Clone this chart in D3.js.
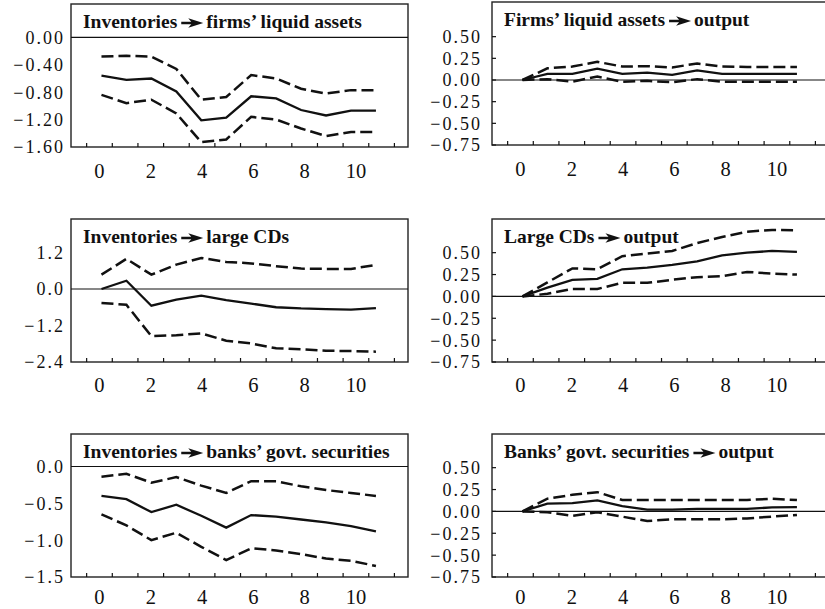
<!DOCTYPE html>
<html><head><meta charset="utf-8">
<script src="https://cdn.jsdelivr.net/npm/d3@7"></script>
<style>body{margin:0;background:#fff}</style>
</head><body><svg id="c" width="825" height="609"></svg>
<script>
// ---------- data ----------
const horizons = [0,1,2,3,4,5,6,7,8,9,10,11];
const xTickLabels = [0,2,4,6,8,10];

const titles = [
  ["Inventories", "firms’ liquid assets"],
  ["Firms’ liquid assets", "output"],
  ["Inventories", "large CDs"],
  ["Large CDs", "output"],
  ["Inventories", "banks’ govt. securities"],
  ["Banks’ govt. securities", "output"]
];

const yTicksP1 = [0, -0.4, -0.8, -1.2, -1.6];
const yTicksP3 = [1.2, 0, -1.2, -2.4];
const yTicksP5 = [0, -0.5, -1.0, -1.5];
const yTicksOut = [0.5, 0.25, 0, -0.25, -0.5, -0.75];

const p1Mid = [-0.56,-0.62,-0.60,-0.79,-1.21,-1.17,-0.86,-0.89,-1.06,-1.14,-1.07,-1.07];
const p1Up  = [-0.28,-0.27,-0.28,-0.46,-0.91,-0.87,-0.55,-0.60,-0.75,-0.82,-0.77,-0.77];
const p1Lo  = [-0.84,-0.96,-0.91,-1.11,-1.53,-1.49,-1.16,-1.20,-1.33,-1.44,-1.38,-1.38];

const p2Mid = [0,0.07,0.07,0.13,0.07,0.085,0.06,0.11,0.07,0.07,0.07,0.07];
const p2Up  = [0,0.135,0.155,0.21,0.155,0.16,0.145,0.19,0.155,0.15,0.15,0.15];
const p2Lo  = [0,0.01,-0.02,0.04,-0.02,-0.01,-0.025,0.01,-0.02,-0.02,-0.02,-0.02];

const p3Mid = [0.0,0.27,-0.55,-0.35,-0.22,-0.37,-0.48,-0.60,-0.64,-0.66,-0.68,-0.63];
const p3Up  = [0.47,0.99,0.47,0.80,1.02,0.89,0.84,0.75,0.67,0.66,0.66,0.79];
const p3Lo  = [-0.46,-0.52,-1.55,-1.52,-1.46,-1.70,-1.79,-1.95,-1.98,-2.03,-2.04,-2.06];

const p4Mid = [0,0.10,0.19,0.20,0.31,0.33,0.36,0.40,0.47,0.50,0.52,0.51];
const p4Up  = [0,0.16,0.32,0.31,0.46,0.49,0.52,0.61,0.68,0.74,0.76,0.755];
const p4Lo  = [0,0.03,0.085,0.085,0.155,0.155,0.19,0.22,0.23,0.28,0.26,0.25];

const p5Mid = [-0.40,-0.445,-0.62,-0.52,-0.67,-0.83,-0.66,-0.68,-0.72,-0.76,-0.81,-0.88];
const p5Up  = [-0.14,-0.10,-0.22,-0.145,-0.26,-0.36,-0.20,-0.20,-0.27,-0.32,-0.36,-0.40];
const p5Lo  = [-0.65,-0.80,-1.00,-0.90,-1.09,-1.27,-1.11,-1.14,-1.19,-1.25,-1.28,-1.35];

const p6Mid = [0,0.09,0.095,0.125,0.06,0.02,0.02,0.03,0.03,0.03,0.045,0.05];
const p6Up  = [0,0.145,0.19,0.22,0.13,0.13,0.13,0.13,0.13,0.13,0.145,0.13];
const p6Lo  = [0,-0.01,-0.05,-0.01,-0.06,-0.11,-0.09,-0.09,-0.09,-0.08,-0.06,-0.04];

// ---------- layout ----------
const panels = [
  {t:titles[0], mid:p1Mid, up:p1Up, lo:p1Lo, ticks:yTicksP1, fmt:".2f", dom:[-1.6,0.487], x0:71, top:4,   bot:147, col:0, lab:31},
  {t:titles[1], mid:p2Mid, up:p2Up, lo:p2Lo, ticks:yTicksOut, fmt:".2f", dom:[-0.75,0.90], x0:492, top:2, bot:145, col:1, lab:31},
  {t:titles[2], mid:p3Mid, up:p3Up, lo:p3Lo, ticks:yTicksP3, fmt:".1f", dom:[-2.4,2.3], x0:71, top:219, bot:362, col:0, lab:30},
  {t:titles[3], mid:p4Mid, up:p4Up, lo:p4Lo, ticks:yTicksOut, fmt:".2f", dom:[-0.75,0.885], x0:492, top:219, bot:362, col:1, lab:30},
  {t:titles[4], mid:p5Mid, up:p5Up, lo:p5Lo, ticks:yTicksP5, fmt:".1f", dom:[-1.5,0.44], x0:71, top:434, bot:577, col:0, lab:26.5},
  {t:titles[5], mid:p6Mid, up:p6Up, lo:p6Lo, ticks:yTicksOut, fmt:".2f", dom:[-0.75,0.885], x0:492, top:434, bot:577, col:1, lab:26.5}
];
const W = 337;
const ink = "#111";
const serif = "Liberation Serif, Times New Roman, serif";

const svg = d3.select("#c");

panels.forEach(p => {
  const g = svg.append("g");
  const ax = d3.scaleLinear().domain([-1.11, 12.03]).range([p.x0, p.x0 + W]);
  const xd = d3.scaleLinear().domain([0, 11]).range([ax(0) + 2, ax(10.78)]);
  const y = d3.scaleLinear().domain(p.dom).range([p.bot, p.top]);

  // frame
  g.append("rect").attr("x", p.x0).attr("y", p.top).attr("width", W).attr("height", p.bot - p.top)
    .attr("fill", "none").attr("stroke", "#222").attr("stroke-width", 1.4);

  // zero line
  g.append("line").attr("x1", p.x0).attr("x2", p.x0 + W).attr("y1", y(0)).attr("y2", y(0))
    .attr("stroke", ink).attr("stroke-width", 1.1);

  // x ticks (inward, at half units)
  const xt = [-0.5,0.5,1.5,2.5,3.5,4.5,5.5,6.5,7.5,8.5,9.5,10.5,11.5];
  g.selectAll(".xt").data(xt).join("line")
    .attr("x1", d => ax(d)).attr("x2", d => ax(d))
    .attr("y1", p.bot).attr("y2", p.bot - 4).attr("stroke", ink).attr("stroke-width", 1.2);

  // x labels
  g.selectAll(".xl").data(xTickLabels).join("text")
    .attr("x", d => ax(d)).attr("y", p.bot + p.lab)
    .attr("text-anchor", "middle")
    .attr("font-family", serif)
    .attr("font-size", 20.5).attr("fill", ink)
    .text(d => d);

  // y ticks / labels
  const f = d3.format(p.fmt);
  const labRight = p.col === 0 ? p.x0 - 8 : p.x0 - 12;
  g.selectAll(".yl").data(p.ticks).join("text")
    .attr("x", labRight + 2).attr("y", d => y(d)).attr("dy", "0.36em")
    .attr("text-anchor", "end")
    .attr("font-family", serif)
    .attr("font-size", 18).attr("letter-spacing", "2px").attr("fill", ink)
    .text(d => f(d));
  if (p.col === 1) {
    g.selectAll(".yt").data(p.ticks).join("line")
      .attr("x1", p.x0).attr("x2", p.x0 + 4).attr("y1", d => y(d)).attr("y2", d => y(d))
      .attr("stroke", ink).attr("stroke-width", 1.2);
  }

  // series
  const line = d3.line().x((d, i) => xd(horizons[i])).y(d => y(d));
  g.append("path").attr("d", line(p.up)).attr("fill", "none").attr("stroke", ink)
    .attr("stroke-width", 2.5).attr("stroke-dasharray", "12,5");
  g.append("path").attr("d", line(p.lo)).attr("fill", "none").attr("stroke", ink)
    .attr("stroke-width", 2.5).attr("stroke-dasharray", "12,5");
  g.append("path").attr("d", line(p.mid)).attr("fill", "none").attr("stroke", ink)
    .attr("stroke-width", 2.3);

  // title
  const tb = p.top + 24;
  const tx = p.x0 + 12;
  const t1 = g.append("text").attr("x", tx).attr("y", tb)
    .attr("font-family", serif).attr("font-weight", "bold")
    .attr("font-size", 19.5).attr("fill", ink).text(p.t[0]);
  const w1 = t1.node().getComputedTextLength();
  const a0 = tx + w1 + 4, cy = tb - 5;
  g.append("path")
    .attr("d", `M${a0},${cy-1.2}L${a0+10},${cy-1.2}L${a0+7},${cy-4.8}L${a0+22},${cy}L${a0+7},${cy+4.8}L${a0+10},${cy+1.2}L${a0},${cy+1.2}Z`)
    .attr("fill", ink);
  g.append("text").attr("x", a0 + 25).attr("y", tb)
    .attr("font-family", serif).attr("font-weight", "bold")
    .attr("font-size", 19.5).attr("fill", ink).text(p.t[1]);
});
</script></body></html>
